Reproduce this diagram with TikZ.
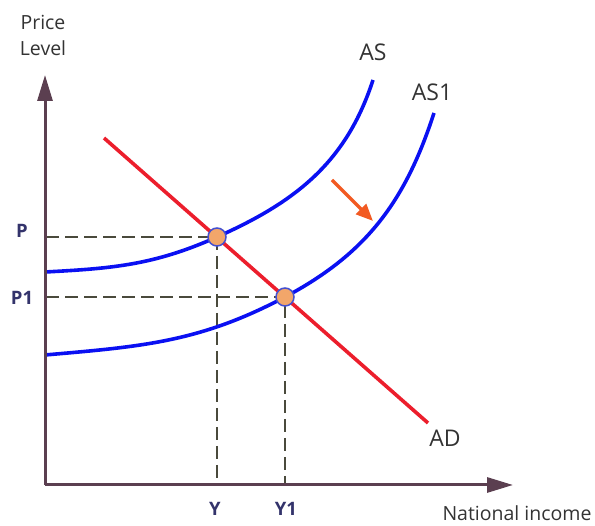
\documentclass[tikz,border=0pt]{standalone}
\usepackage{fontspec}
\setmainfont{Open Sans}
\usetikzlibrary{arrows.meta, positioning}
\definecolor{axisline}{HTML}{5B3F50}
\definecolor{supplyblue}{HTML}{0A10F2}
\definecolor{demandred}{HTML}{EC1E2C}
\definecolor{shiftorange}{HTML}{F25A22}
\definecolor{pointfill}{HTML}{F2A66A}
\definecolor{pointrim}{HTML}{4450D0}
\definecolor{guideline}{HTML}{4A4A3C}
\definecolor{valuetext}{HTML}{33336B}
\definecolor{labeltext}{HTML}{333333}

\begin{document}
\begin{tikzpicture}[
        x=1pt, y=1pt,
        axis/.style={-{Triangle[length=26pt, width=15pt]}, line width=3pt, axisline},
        supply/.style={line width=3.6pt, supplyblue},
        demand/.style={line width=3.6pt, demandred},
        guide/.style={line width=1.4pt, guideline, dash pattern=on 13pt off 6pt},
        shiftarrow/.style={-{Triangle[length=17pt, width=14pt]}, line width=3.5pt, shiftorange},
        equilibrium/.style={
            circle,
            draw=pointrim,
            line width=1.5pt,
            fill=pointfill,
            minimum size=18pt,
            inner sep=0pt
        },
        curvelabel/.style={font=\fontsize{23}{25}\selectfont, text=labeltext},
        axislabel/.style={font=\fontsize{19.5}{26}\selectfont, text=labeltext},
        valuelabel/.style={font=\fontsize{18.5}{20}\selectfont\bfseries, text=valuetext}
    ]
        \useasboundingbox (0,0) rectangle (595,526);

        \coordinate (origin) at (45,41);
        \coordinate (ytip) at (45,451);
        \coordinate (xtip) at (513,41);
        \coordinate (E1) at (217,289);
        \coordinate (E2) at (285,229);
        \coordinate (pleft) at (46,289);
        \coordinate (p1left) at (46,229);
        \coordinate (ybottom) at (217,42);
        \coordinate (y1bottom) at (285,42);
        \coordinate (asstart) at (45,254);
        \coordinate (asend) at (373,446);
        \coordinate (as1start) at (45,171);
        \coordinate (as1end) at (434,413);
        \coordinate (adstart) at (104,388);
        \coordinate (adend) at (428,103);
        \coordinate (shiftfrom) at (332,346);
        \coordinate (shiftto) at (373,305);

        \draw[guide] (pleft) -- (E1) -- (ybottom);
        \draw[guide] (p1left) -- (E2) -- (y1bottom);

        \draw[supply] (asstart) to[out=3, in=204] (E1) to[out=24, in=-108] (asend);
        \draw[supply] (as1start) to[out=5, in=208] (E2) to[out=28, in=-108] (as1end);
        \draw[demand] (adstart) -- (adend);
        \draw[shiftarrow] (shiftfrom) -- (shiftto);

        \draw[axis] (origin) -- (ytip);
        \draw[axis] (origin) -- (xtip);

        \node[equilibrium] (dot1) at (E1) {};
        \node[equilibrium] (dot2) at (E2) {};

        \node[axislabel, align=center] (pricelevel) at (43,491) {Price\\Level};
        \node[axislabel] (income) at (517,13) {National income};
        \node[curvelabel] (aslabel) at (373,474) {AS};
        \node[curvelabel] (as1label) at (432,434) {AS1};
        \node[curvelabel] (adlabel) at (445,88) {AD};
        \node[valuelabel] (plabel) at (22,295) {P};
        \node[valuelabel] (p1label) at (22,228) {P1};
        \node[valuelabel] (ylabel) at (215,17) {Y};
        \node[valuelabel] (y1label) at (286,17) {Y1};
    \end{tikzpicture}
\end{document}
